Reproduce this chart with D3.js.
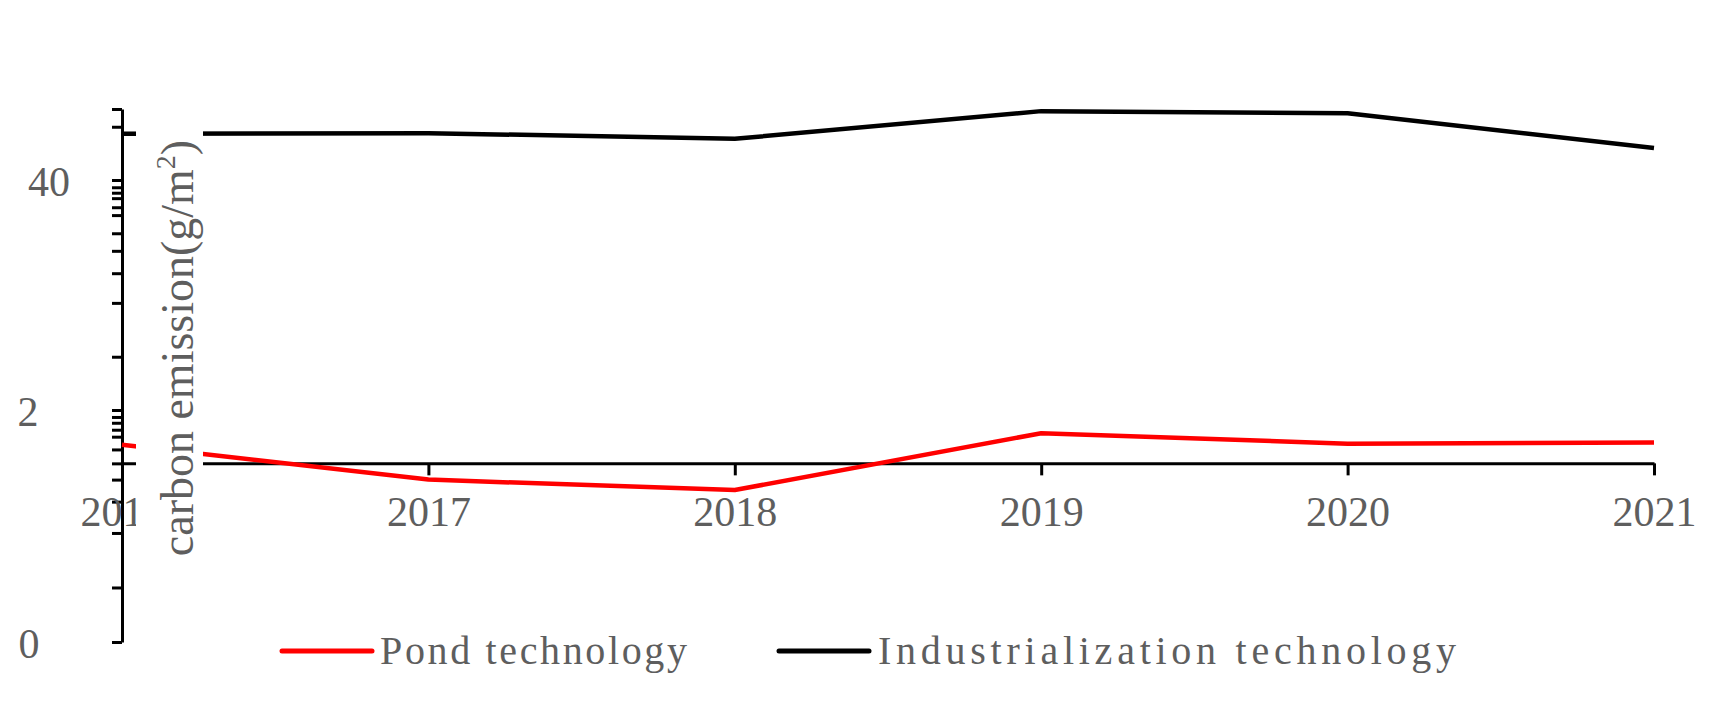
<!DOCTYPE html>
<html>
<head>
<meta charset="utf-8">
<script src="https://cdn.jsdelivr.net/npm/d3@7"></script>
<style>
  html, body { margin: 0; padding: 0; background: #fff; }
  svg { display: block; }
</style>
</head>
<body>
<svg id="chart" width="1717" height="714"></svg>
<script>
// ---- data ----
const years = [2016, 2017, 2018, 2019, 2020, 2021];
const pondTechnology = [1.70, 1.40, 1.31, 1.80, 1.71, 1.72];
const industrializationTechnology = [46.5, 46.6, 45.8, 49.7, 49.4, 44.5];
const seriesNames = ["Pond technology", "Industrialization technology"];
const yLabelValues = [0, 2, 40];
const yLabelTexts = ["0", "2", "40"];
const yMinorTickValues = [0.47, 0.94, 1.21, 1.40, 1.54, 1.66, 1.77, 1.83, 1.89, 1.94,
                          10.8, 19.7, 24.6, 28.3, 31.2, 34.2, 35.5, 37.0, 37.9, 38.8,
                          47.5, 50];
const yAxisTitle = "carbon emission(g/m";
const yAxisTitleSup = "2";
const xAxisBaseValue = 1.54;

// ---- layout ----
const svg = d3.select("#chart");
svg.append("rect").attr("width", 1717).attr("height", 714).attr("fill", "#fff");
const textColor = "#5e5e5e";
const serif = "'Liberation Serif', 'Times New Roman', serif";

const x = d3.scaleLinear().domain([2016, 2021]).range([122, 1654]);
const y = d3.scaleLinear().domain([0, 2, 40, 50]).range([642, 410, 180, 109]);

// y axis
const yTicksAll = yLabelValues.concat(yMinorTickValues).sort((a, b) => a - b);
const yAxisG = svg.append("g").attr("transform", "translate(122,0)")
  .call(d3.axisLeft(y).tickValues(yTicksAll).tickSize(10).tickSizeOuter(0).tickFormat(""));
yAxisG.select(".domain").attr("stroke", "#000").attr("stroke-width", 3);
yAxisG.selectAll(".tick line").attr("stroke", "#000").attr("stroke-width", 3);

const yLabelCenters = { "0": 29, "2": 28, "40": 49 };
svg.append("g").selectAll("text").data(yLabelValues).join("text")
  .attr("x", (d, i) => yLabelCenters[yLabelTexts[i]])
  .attr("y", d => y(d) + 16)
  .attr("text-anchor", "middle")
  .attr("font-family", serif).attr("font-size", 42).attr("fill", textColor)
  .text((d, i) => yLabelTexts[i]);

// x axis
const xAxisY = y(xAxisBaseValue);
const xAxisG = svg.append("g").attr("transform", `translate(0,${xAxisY})`)
  .call(d3.axisBottom(x).tickValues(years).tickSize(12).tickSizeOuter(0).tickFormat(d3.format("d")));
xAxisG.select(".domain").attr("stroke", "#000").attr("stroke-width", 3);
xAxisG.selectAll(".tick line").attr("stroke", "#000").attr("stroke-width", 3);
xAxisG.selectAll(".tick text")
  .attr("y", 63).attr("dy", 0)
  .attr("font-family", serif).attr("font-size", 42).attr("fill", textColor);

// lines
const line = d3.line().x((d, i) => x(years[i])).y(d => y(d));
svg.append("path").datum(industrializationTechnology)
  .attr("d", line).attr("fill", "none").attr("stroke", "#000").attr("stroke-width", 4.5)
  .attr("stroke-linejoin", "round");
svg.append("path").datum(pondTechnology)
  .attr("d", line).attr("fill", "none").attr("stroke", "#ff0000").attr("stroke-width", 4.5)
  .attr("stroke-linejoin", "round");

// y axis title with white background
svg.append("rect").attr("x", 136).attr("y", 120).attr("width", 67).attr("height", 450).attr("fill", "#fff");
const title = svg.append("text")
  .attr("transform", "translate(193,348) rotate(-90)")
  .attr("text-anchor", "middle")
  .attr("font-family", serif).attr("font-size", 46).attr("fill", textColor);
title.append("tspan").text(yAxisTitle);
title.append("tspan").attr("font-size", 28).attr("dy", -18).text(yAxisTitleSup);
title.append("tspan").attr("font-size", 46).attr("dy", 18).text(")");

// legend
const legendItems = [
  { name: seriesNames[0], color: "#ff0000", x0: 282, tx: 380, len: 307 },
  { name: seriesNames[1], color: "#000000", x0: 779, tx: 878, len: 578 }
];
const lg = svg.append("g");
legendItems.forEach(it => {
  lg.append("line").attr("x1", it.x0).attr("x2", it.x0 + 90).attr("y1", 651).attr("y2", 651)
    .attr("stroke", it.color).attr("stroke-width", 5).attr("stroke-linecap", "round");
  lg.append("text").attr("x", it.tx).attr("y", 664)
    .attr("font-family", serif).attr("font-size", 40).attr("fill", textColor)
    .attr("textLength", it.len).attr("lengthAdjust", "spacing")
    .text(it.name);
});
</script>
</body>
</html>
